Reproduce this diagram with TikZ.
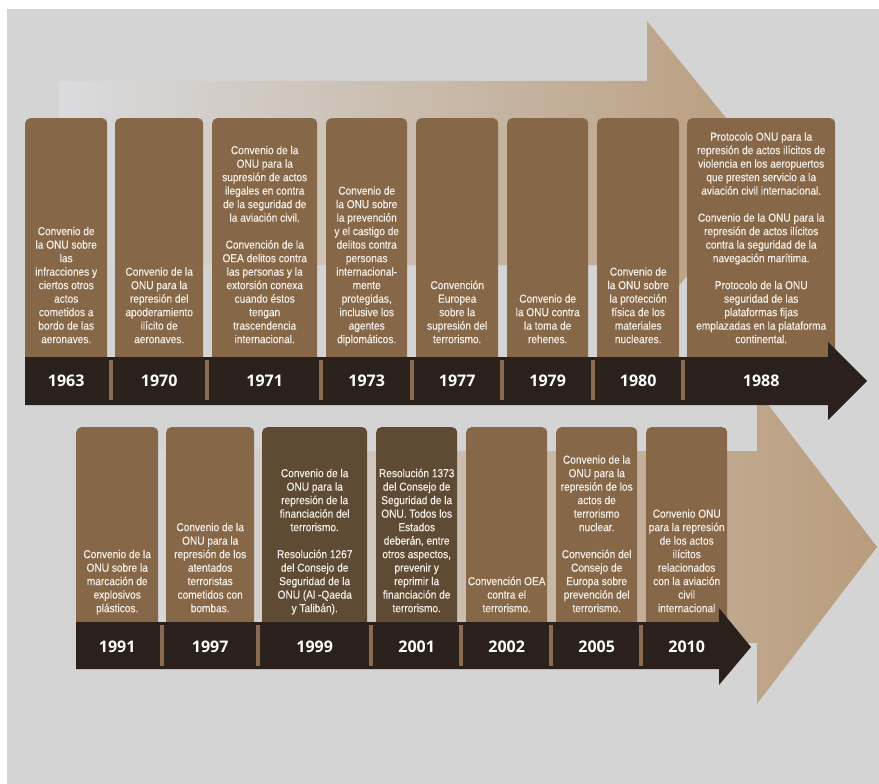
\documentclass[tikz,border=0pt]{standalone}
\usepackage{fontspec}
\usetikzlibrary{positioning}
\newfontfamily\evfont[FakeStretch=0.88, FakeBold=0.4]{Liberation Sans}
\newfontfamily\yearfont{Open Sans}
\definecolor{bggrey}{HTML}{D4D4D4}
\definecolor{boxbrown}{HTML}{866849}
\definecolor{boxdark}{HTML}{5F4A33}
\definecolor{bardark}{HTML}{2B211C}
\definecolor{sepbrown}{HTML}{8B6B4F}
\definecolor{textcream}{HTML}{F3EEE8}
\definecolor{arrowpale}{HTML}{DADBDE}
\definecolor{arrowmid}{HTML}{C8B39F}
\definecolor{arrowtan}{HTML}{B99C7C}
\begin{document}
\begin{tikzpicture}[x=1pt, y=-1pt,
	evbox/.style = {fill=boxbrown, rounded corners=5pt, anchor=north west, inner sep=0pt},
	toprowbox/.style = {evbox, minimum height=247pt},
	botrowbox/.style = {evbox, minimum height=203pt},
	evtext/.style = {text=textcream, font=\evfont\fontsize{11.5}{13.5}\selectfont, align=center, inner sep=0pt, execute at end node=\strut},
	year/.style = {text=white, font=\yearfont\bfseries\fontsize{16}{18}\selectfont, inner sep=0pt}]
	
		\fill[white] (0,0) rectangle (879,784);
		\fill[bggrey] (7,9) rectangle (879,784);
		\useasboundingbox (0,0) rectangle (879,784);
		
		% big arrows behind
		\shade[left color=arrowpale, middle color=arrowmid, right color=arrowtan] (59,81) -- (647,81) -- (647,21) -- (771,173) -- (647,325) -- (647,265) -- (59,265) -- cycle;
		\shade[left color=arrowpale, middle color=arrowmid, right color=arrowtan] (110,451) -- (757,451) -- (757,390) -- (877,547) -- (757,704) -- (757,643) -- (110,643) -- cycle;
		
		\coordinate (toprow) at (0,381);
		\coordinate (botrow) at (0,647);
		
		% first row
		\node[toprowbox, minimum width=82pt] (b1963) at (25,118) {};
		\node[toprowbox, minimum width=88pt] (b1970) at (115,118) {};
		\node[toprowbox, minimum width=105pt] (b1971) at (212,118) {};
		\node[toprowbox, minimum width=81pt] (b1973) at (326,118) {};
		\node[toprowbox, minimum width=82pt] (b1977) at (416,118) {};
		\node[toprowbox, minimum width=81pt] (b1979) at (507,118) {};
		\node[toprowbox, minimum width=82pt] (b1980) at (597,118) {};
		\node[toprowbox, minimum width=148pt] (b1988) at (687,118) {};
		
		% second row
		\node[botrowbox, minimum width=82pt] (b1991) at (76,427) {};
		\node[botrowbox, minimum width=88pt] (b1997) at (166,427) {};
		\node[botrowbox, minimum width=105pt, fill=boxdark] (b1999) at (262,427) {};
		\node[botrowbox, minimum width=81pt, fill=boxdark] (b2001) at (376,427) {};
		\node[botrowbox, minimum width=81pt] (b2002) at (466,427) {};
		\node[botrowbox, minimum width=81pt] (b2005) at (556,427) {};
		\node[botrowbox, minimum width=81pt] (b2010) at (646,427) {};
		
		% year bars
		\fill[bardark] (25,357) -- (828,357) -- (828,342) -- (867,381) -- (828,420) -- (828,405) -- (25,405) -- cycle;
		\fill[bardark] (76,622) -- (719,622) -- (719,608) -- (751,647) -- (719,685) -- (719,669) -- (76,669) -- cycle;
		
		\fill[sepbrown] (109,360) rectangle (113,400);
		\fill[sepbrown] (205,360) rectangle (209,400);
		\fill[sepbrown] (319,360) rectangle (323,400);
		\fill[sepbrown] (410,360) rectangle (414,400);
		\fill[sepbrown] (500,360) rectangle (504,400);
		\fill[sepbrown] (591,360) rectangle (595,400);
		\fill[sepbrown] (681,360) rectangle (685,400);
		
		\fill[sepbrown] (160,625) rectangle (164,666);
		\fill[sepbrown] (256,625) rectangle (260,666);
		\fill[sepbrown] (369,625) rectangle (373,666);
		\fill[sepbrown] (459,625) rectangle (463,666);
		\fill[sepbrown] (549,625) rectangle (553,666);
		\fill[sepbrown] (639,625) rectangle (643,666);
		
		\node[year] (y1963) at (b1963 |- toprow) {1963};
		\node[year] (y1970) at (b1970 |- toprow) {1970};
		\node[year] (y1971) at (b1971 |- toprow) {1971};
		\node[year] (y1973) at (b1973 |- toprow) {1973};
		\node[year] (y1977) at (b1977 |- toprow) {1977};
		\node[year] (y1979) at (b1979 |- toprow) {1979};
		\node[year] (y1980) at (b1980 |- toprow) {1980};
		\node[year] (y1988) at (b1988 |- toprow) {1988};
		
		\node[year] (y1991) at (b1991 |- botrow) {1991};
		\node[year] (y1997) at (b1997 |- botrow) {1997};
		\node[year] (y1999) at (b1999 |- botrow) {1999};
		\node[year] (y2001) at (b2001 |- botrow) {2001};
		\node[year] (y2002) at (b2002 |- botrow) {2002};
		\node[year] (y2005) at (b2005 |- botrow) {2005};
		\node[year] (y2010) at (b2010 |- botrow) {2010};
		
		% texts
		\node[evtext, above=18pt of b1963.south] (t1963) {Convenio de\\la ONU sobre\\las\\infracciones y\\ciertos otros\\actos\\cometidos a\\bordo de las\\aeronaves.};
		\node[evtext, above=18pt of b1970.south] (t1970) {Convenio de la\\ONU para la\\represión del\\apoderamiento\\ilícito de\\aeronaves.};
		\node[evtext, above=18pt of b1971.south] (t1971) {Convenio de la\\ONU para la\\supresión de actos\\ilegales en contra\\de la seguridad de\\la aviación civil.\\[13.5pt]Convención de la\\OEA delitos contra\\las personas y la\\extorsión conexa\\cuando éstos\\tengan\\trascendencia\\internacional.};
		\node[evtext, above=18pt of b1973.south] (t1973) {Convenio de\\la ONU sobre\\la prevención\\y el castigo de\\delitos contra\\personas\\internacional-\\mente\\protegidas,\\inclusive los\\agentes\\diplomáticos.};
		\node[evtext, above=18pt of b1977.south] (t1977) {Convención\\Europea\\sobre la\\supresión del\\terrorismo.};
		\node[evtext, above=18pt of b1979.south] (t1979) {Convenio de\\la ONU contra\\la toma de\\rehenes.};
		\node[evtext, above=18pt of b1980.south] (t1980) {Convenio de\\la ONU sobre\\la protección\\física de los\\materiales\\nucleares.};
		\node[evtext, above=18pt of b1988.south] (t1988) {Protocolo ONU para la\\represión de actos ilícitos de\\violencia en los aeropuertos\\que presten servicio a la\\aviación civil internacional.\\[13.5pt]Convenio de la ONU para la\\represión de actos ilícitos\\contra la seguridad de la\\navegación marítima.\\[13.5pt]Protocolo de la ONU\\seguridad de las\\plataformas fijas\\emplazadas en la plataforma\\continental.};
		
		\node[evtext, above=14pt of b1991.south] (t1991) {Convenio de la\\ONU sobre la\\marcación de\\explosivos\\plásticos.};
		\node[evtext, above=14pt of b1997.south] (t1997) {Convenio de la\\ONU para la\\represión de los\\atentados\\terroristas\\cometidos con\\bombas.};
		\node[evtext, above=14pt of b1999.south] (t1999) {Convenio de la\\ONU para la\\represión de la\\financiación del\\terrorismo.\\[13.5pt]Resolución 1267\\del Consejo de\\Seguridad de la\\ONU (Al -Qaeda\\y Talibán).};
		\node[evtext, above=14pt of b2001.south] (t2001) {Resolución 1373\\del Consejo de\\Seguridad de la\\ONU. Todos los\\Estados\\deberán, entre\\otros aspectos,\\prevenir y\\reprimir la\\financiación de\\terrorismo.};
		\node[evtext, above=14pt of b2002.south] (t2002) {Convención OEA\\contra el\\terrorismo.};
		\node[evtext, above=14pt of b2005.south] (t2005) {Convenio de la\\ONU para la\\represión de los\\actos de\\terrorismo\\nuclear.\\[13.5pt]Convención del\\Consejo de\\Europa sobre\\prevención del\\terrorismo.};
		\node[evtext, above=14pt of b2010.south] (t2010) {Convenio ONU\\para la represión\\de los actos\\ilícitos\\relacionados\\con la aviación\\civil\\internacional};
		
\end{tikzpicture}
\end{document}
